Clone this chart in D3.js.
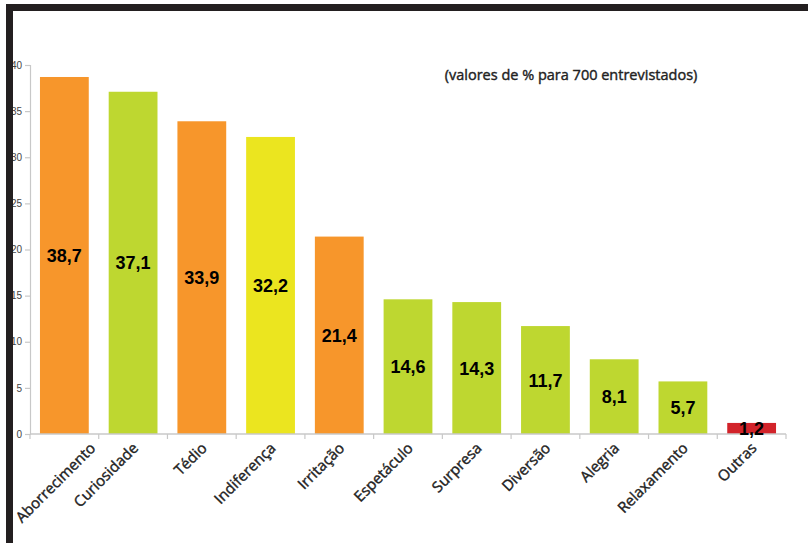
<!DOCTYPE html>
<html>
<head>
<meta charset="utf-8">
<script src="https://cdn.jsdelivr.net/npm/d3@7"></script>
<style>
  body { margin: 0; background: #fff; }
</style>
</head>
<body>
<div id="chart"></div>
<script>
var categories = ["Aborrecimento", "Curiosidade", "Tédio", "Indiferença", "Irritação",
    "Espetáculo", "Surpresa", "Diversão", "Alegria", "Relaxamento", "Outras"];
var values = [38.7, 37.1, 33.9, 32.2, 21.4, 14.6, 14.3, 11.7, 8.1, 5.7, 1.2];
var tones = ["negativa", "positiva", "negativa", "neutra", "negativa",
    "positiva", "positiva", "positiva", "positiva", "positiva", "outras"];
var yTicks = [0, 5, 10, 15, 20, 25, 30, 35, 40];
var note = "(valores de % para 700 entrevistados)";

function init() {
    var w = 808, h = 543;
    var left = 30, right = 786, top = 65, bottom = 434;

    var svg = d3.select("#chart")
        .append("svg")
        .attr("width", w)
        .attr("height", h);

    var color = d3.scaleOrdinal()
        .domain(["negativa", "positiva", "neutra", "outras"])
        .range(["#f7962b", "#bed730", "#ebe51f", "#d2232a"]);

    var xScale = d3.scaleBand()
        .domain(categories)
        .range([left, right])
        .paddingInner(0.29)
        .paddingOuter(0.145);

    var yScale = d3.scaleLinear()
        .domain([0, 40])
        .range([bottom, top]);

    var fmt = d3.formatLocale({ decimal: ",", thousands: ".", grouping: [3], currency: ["", ""] }).format(".1f");

    // y axis
    var yAxis = svg.append("g")
        .attr("transform", "translate(" + left + ",0)")
        .call(d3.axisLeft(yScale).tickValues(yTicks).tickSize(5).tickPadding(3));
    yAxis.selectAll("path, line").attr("stroke", "#c8c8c8").attr("stroke-width", 1.2);
    yAxis.selectAll("text")
        .style("font-family", "'Liberation Sans Narrow', 'Arial Narrow', sans-serif")
        .style("font-size", "10px")
        .attr("fill", "#444");

    // bars
    svg.selectAll("rect.bar")
        .data(values)
        .enter()
        .append("rect")
        .attr("class", "bar")
        .attr("x", function (d, i) { return xScale(categories[i]); })
        .attr("y", function (d) { return yScale(d); })
        .attr("width", xScale.bandwidth())
        .attr("height", function (d) { return yScale(0) - yScale(d); })
        .style("fill", function (d, i) { return color(tones[i]); });

    // x axis line and boundary ticks
    svg.append("line")
        .attr("x1", left).attr("x2", right)
        .attr("y1", bottom).attr("y2", bottom)
        .attr("stroke", "#c8c8c8").attr("stroke-width", 1.5);
    var step = xScale.step();
    var edges = categories.map(function (c) { return xScale(c) + xScale.bandwidth() / 2 - step / 2; });
    edges.push(right);
    svg.selectAll("line.xtick")
        .data(edges)
        .enter()
        .append("line")
        .attr("class", "xtick")
        .attr("x1", function (d) { return d; })
        .attr("x2", function (d) { return d; })
        .attr("y1", bottom)
        .attr("y2", bottom + 5)
        .attr("stroke", "#c8c8c8").attr("stroke-width", 1.2);

    // value labels
    svg.selectAll("text.val")
        .data(values)
        .enter()
        .append("text")
        .attr("class", "val")
        .attr("x", function (d, i) { return xScale(categories[i]) + xScale.bandwidth() / 2; })
        .attr("y", function (d) { return (yScale(d) + yScale(0)) / 2; })
        .attr("text-anchor", "middle")
        .attr("dy", "0.36em")
        .style("font-family", "'Liberation Sans', Arial, sans-serif")
        .style("font-weight", "bold")
        .style("font-size", "18px")
        .attr("fill", "#000")
        .text(function (d) { return fmt(d); });

    // category labels
    var labels = svg.selectAll("text.cat")
        .data(categories)
        .enter()
        .append("text")
        .attr("class", "cat")
        .attr("text-anchor", "end")
        .style("font-family", "'Open Sans', sans-serif")
        .style("font-size", "15px")
        .attr("fill", "#222")
        .attr("stroke", "#222")
        .attr("stroke-width", 0.4)
        .text(function (d) { return d; });
    labels.each(function (d) {
        var bx = xScale(d) + xScale.bandwidth() / 2 + 6;
        var len = this.getComputedTextLength();
        var leftEdge = bx - len * Math.SQRT1_2;
        if (leftEdge < 22) bx += 22 - leftEdge;
        d3.select(this).attr("transform", "translate(" + bx + "," + (bottom + 15) + ") rotate(-45)");
    });

    // note
    svg.append("text")
        .attr("x", 571)
        .attr("y", 80)
        .attr("text-anchor", "middle")
        .style("font-family", "'Open Sans', sans-serif")
        .style("font-size", "14.5px")
        .attr("fill", "#222")
        .attr("stroke", "#222")
        .attr("stroke-width", 0.4)
        .text(note);

    // black frame
    svg.append("rect").attr("x", 6).attr("y", 4).attr("width", w - 6).attr("height", 7).attr("fill", "#231f20");
    svg.append("rect").attr("x", 6).attr("y", 4).attr("width", 7).attr("height", h - 4).attr("fill", "#231f20");
}

window.onload = init;
</script>
</body>
</html>
